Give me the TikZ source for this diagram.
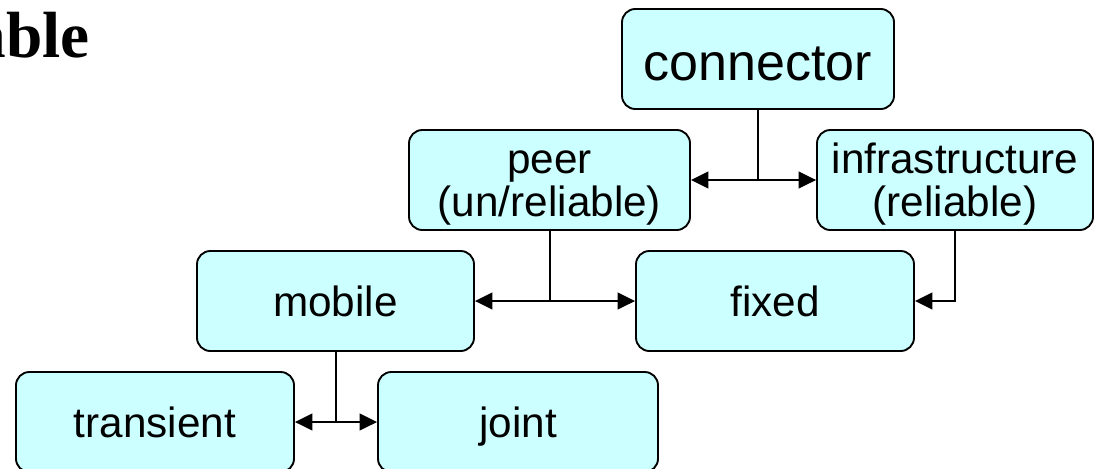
\documentclass[tikz,border=0pt]{standalone}
\usepackage{fontspec}
\setmainfont{Liberation Sans}
\newfontfamily\titlefont{Liberation Serif}
\usetikzlibrary{arrows.meta}
\definecolor{boxfill}{HTML}{CCFFFF}
\begin{document}
\begin{tikzpicture}[x=0.75pt,y=-0.75pt,
  box/.style={draw=black, line width=1.4pt, fill=boxfill, rounded corners=10pt,
    minimum width=#1, minimum height=75pt, inner sep=0pt, align=center,
    text height=27pt, text depth=4.5pt,
    font=\fontsize{31.7}{32.3}\selectfont},
  twoline/.style={text height=59pt, text depth=4.5pt},
  link/.style={draw=black, line width=1.5pt},
  arr/.style={link, -{Triangle[length=13pt,width=12.5pt]}}]
\useasboundingbox (0,0) rectangle (1095,468);
% title fragment
\node[anchor=base east, inner sep=0pt, font=\titlefont\bfseries\fontsize{49}{51}\selectfont] (title) at (90,57) {able};
% boxes
\node[box=204pt, text height=36pt, font=\fontsize{39}{40}\selectfont] (conn) at (758,59) {connector};
\node[box=210.75pt, twoline] (peer) at (549.5,180) {peer\\(un/reliable)};
\node[box=207pt, twoline] (infra) at (955,180) {infrastructure\\(reliable)};
\node[box=207.75pt] (mobile) at (335.5,301) {mobile};
\node[box=208.5pt] (fixed) at (775,301) {fixed};
\node[box=208.5pt] (transient) at (155,422) {transient};
\node[box=210pt] (joint) at (518,422) {joint};
% connectors
\coordinate (j1) at (conn.south |- peer.east);
\draw[link] (conn.south) -- (j1);
\draw[arr] (j1) -- (peer.east);
\draw[arr] (j1) -- (infra.west);
\coordinate (j2) at (peer.south |- mobile.east);
\draw[link] (peer.south) -- (j2);
\draw[arr] (j2) -- (mobile.east);
\draw[arr] (j2) -- (fixed.west);
\draw[arr] (infra.south) |- (fixed.east);
\coordinate (j3) at (mobile.south |- transient.east);
\draw[link] (mobile.south) -- (j3);
\draw[arr] (j3) -- (transient.east);
\draw[arr] (j3) -- (joint.west);
\end{tikzpicture}
\end{document}
